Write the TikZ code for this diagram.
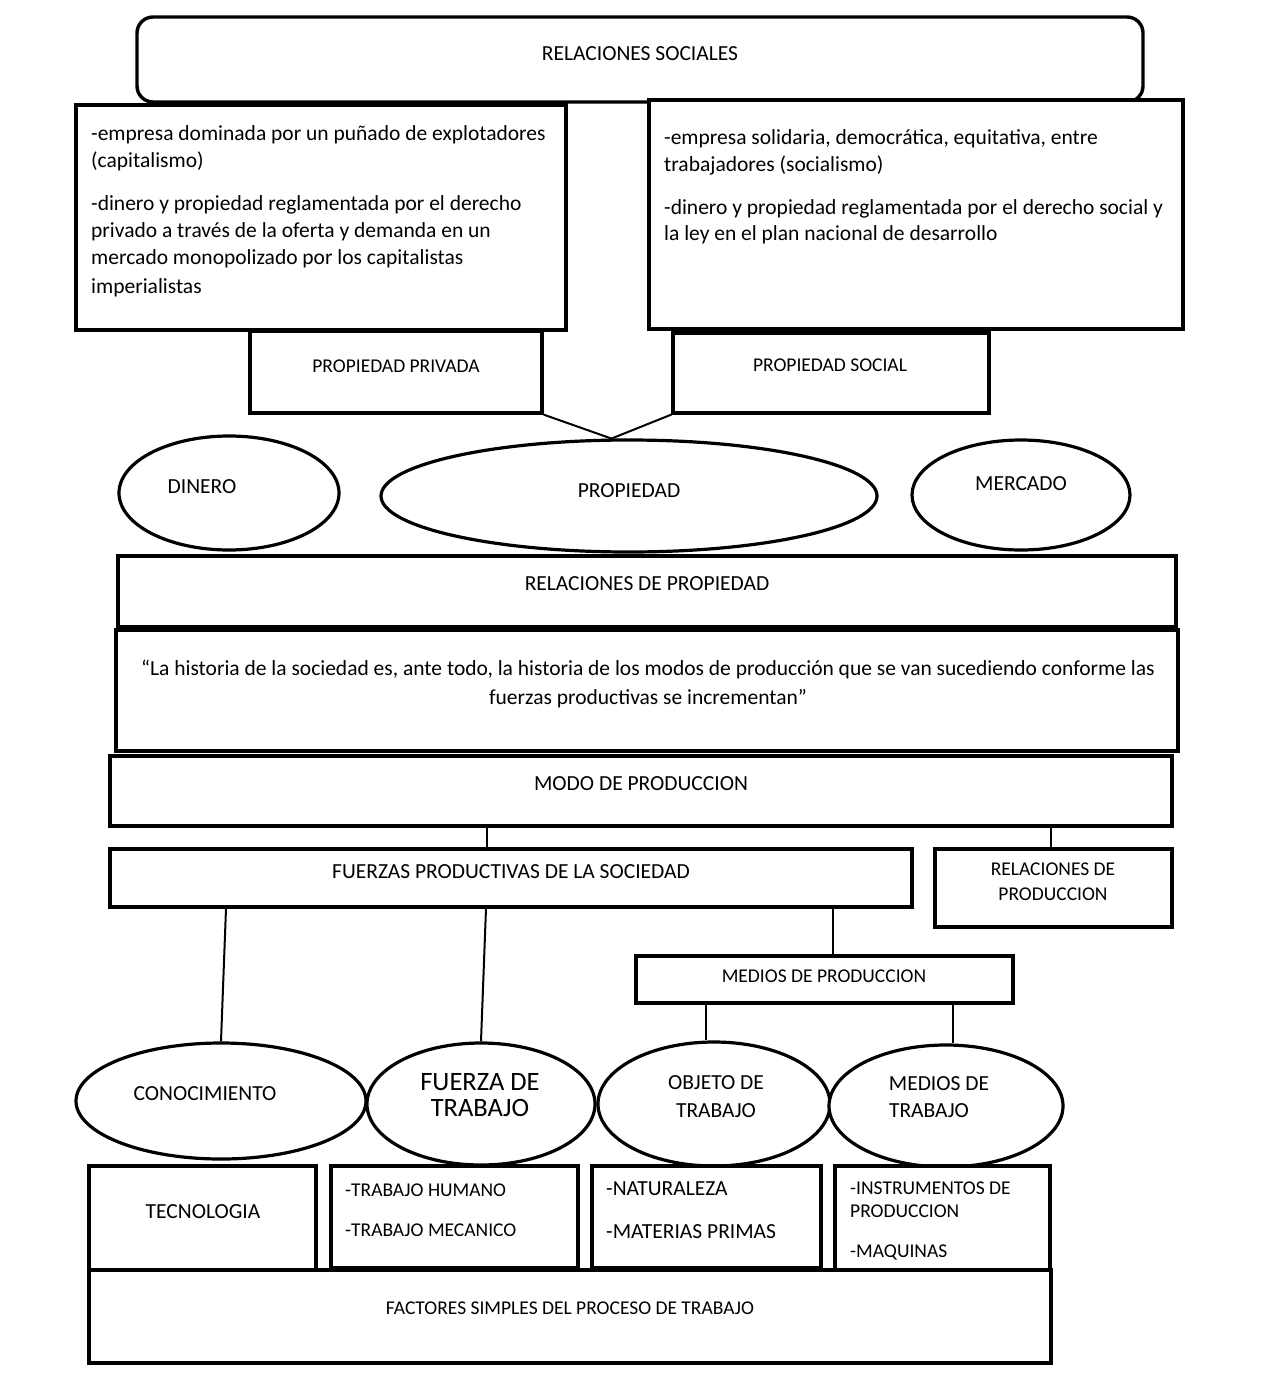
\documentclass[tikz,border=0pt]{standalone}
\usepackage{fontspec}
\setmainfont{Carlito}
\usetikzlibrary{shapes.geometric,calc}
\newcommand\mybox[5]{\node[boxst, minimum width={(#4-#2)*1pt}, minimum height={(#5-#3)*1pt}] (#1) at ({(#2+#4)/2},{(#3+#5)/2}) {};}
\newcommand\myell[5]{\node[ellst, minimum width={2*#4*1pt}, minimum height={2*#5*1pt}] (#1) at (#2,#3) {};}
\newcommand\lw[4]{\node[txtl] (#1) at ({#2},{#3+7}) {#4};}
\newcommand\lc[4]{\node[txtc] (#1) at ({#2},{#3+7}) {#4};}
\newcommand\lcs[4]{\node[txtc, font=\fontsize{19.5}{22}\selectfont] (#1) at ({#2},{#3+6.5}) {#4};}
\newcommand\lws[4]{\node[txtl, font=\fontsize{19.5}{22}\selectfont] (#1) at ({#2},{#3+6.5}) {#4};}
\begin{document}
\begin{tikzpicture}[x=1pt,y=-1pt,
  boxst/.style={draw, line width=3.2pt, rectangle, inner sep=0pt, fill=white},
  ellst/.style={draw, line width=3.2pt, ellipse, inner sep=0pt, fill=white},
  txtl/.style={anchor=base west, inner sep=0pt, font=\fontsize{21.5}{24}\selectfont},
  txtc/.style={anchor=base, inner sep=0pt, font=\fontsize{21.5}{24}\selectfont},
  conn/.style={line width=2pt}]
\useasboundingbox (0,0) rectangle (1275,1392);
\fill[white] (0,0) rectangle (1275,1392);

% top
\node[draw, line width=3.4pt, rounded corners=16pt, minimum width=1006pt, minimum height=85pt, inner sep=0pt] (rs) at (640,59.5) {};
\lc{trs}{640}{53}{RELACIONES SOCIALES}

\mybox{pp}{250}{331}{542}{413}
\mybox{ps}{673}{333}{989}{413}
\myell{prop}{629}{496}{248}{56}
\draw[conn] (pp.south east) -- (prop.107) -- (ps.south west);

\mybox{lbox}{76}{105}{566}{330}
\mybox{rbox}{649}{100}{1183}{329}
\lw{l1}{91}{133}{-empresa dominada por un puñado de explotadores}
\lw{l2}{91}{160}{(capitalismo)}
\lw{l3}{91}{203}{-dinero y propiedad reglamentada por el derecho}
\lw{l4}{91}{230}{privado a través de la oferta y demanda en un}
\lw{l5}{91}{257}{mercado monopolizado por los capitalistas}
\lw{l6}{91}{286}{imperialistas}
\lw{r1}{664}{137}{-empresa solidaria, democrática, equitativa, entre}
\lw{r2}{664}{164}{trabajadores (socialismo)}
\lw{r3}{664}{207}{-dinero y propiedad reglamentada por el derecho social y}
\lw{r4}{664}{233}{la ley en el plan nacional de desarrollo}

\lcs{tpp}{396}{366}{PROPIEDAD PRIVADA}
\lcs{tps}{830}{365}{PROPIEDAD SOCIAL}

\myell{din}{229}{493}{110}{57}
\myell{mer}{1021}{495}{109}{55}
\lc{tdin}{202}{486}{DINERO}
\lc{tprop}{629}{490}{PROPIEDAD}
\lc{tmer}{1021}{483}{MERCADO}

\mybox{rp}{118}{556}{1176}{627}
\lc{trp}{647}{583}{RELACIONES DE PROPIEDAD}
\mybox{quote}{116}{630}{1178}{751}
\lc{q1}{648}{668}{“La historia de la sociedad es, ante todo, la historia de los modos de producción que se van sucediendo conforme las}
\lc{q2}{648}{697}{fuerzas productivas se incrementan”}

\mybox{modo}{110}{756}{1172}{826}
\lc{tmodo}{641}{783}{MODO DE PRODUCCION}

\mybox{fz}{110}{849}{912}{907}
\lc{tfz}{511}{871}{FUERZAS PRODUCTIVAS DE LA SOCIEDAD}
\mybox{rprod}{935}{849}{1172}{927}
\lcs{trp1}{1053}{869}{RELACIONES DE}
\lcs{trp2}{1053}{894}{PRODUCCION}
\mybox{mp}{636}{956}{1013}{1003}
\lcs{tmp}{824}{976}{MEDIOS DE PRODUCCION}

\coordinate (xa) at (487,0);
\coordinate (xb) at (1051,0);
\coordinate (xc) at (833,0);
\coordinate (xd) at (226,0);
\coordinate (xe) at (486,0);
\coordinate (xf) at (706,0);
\coordinate (xg) at (953,0);

\myell{con}{221}{1101}{145}{58}
\myell{fdt}{481}{1104}{114}{61}
\myell{odt}{714}{1104}{116}{62}
\myell{mdt}{946}{1106}{117}{61}

\draw[conn] (modo.south -| xa) -- (fz.north -| xa);
\draw[conn] (modo.south -| xb) -- (rprod.north -| xb);
\draw[conn] (fz.south -| xc) -- (mp.north -| xc);
\draw[conn] (fz.south -| xd) -- (con.north);
\draw[conn] (fz.south -| xe) -- (fdt.north);
\draw[conn] (mp.south -| xf) -- (odt.north -| xf);
\draw[conn] (mp.south -| xg) -- (mdt.north -| xg);

\lc{tcon}{205}{1093}{CONOCIMIENTO}
\node[txtc, font=\fontsize{26.5}{28}\selectfont] (tf1) at (480,1090.5) {FUERZA DE};
\node[txtc, font=\fontsize{26.5}{28}\selectfont] (tf2) at (480,1116.5) {TRABAJO};
\lc{to1}{716}{1082}{OBJETO DE}
\lc{to2}{716}{1110}{TRABAJO}
\lc{tm1}{939}{1083}{MEDIOS DE}
\lc{tm2}{929}{1110}{TRABAJO}

\mybox{tec}{89}{1166}{316}{1270}
\mybox{trab}{331}{1166}{578}{1268}
\mybox{nat}{592}{1166}{821}{1268}
\mybox{ins}{835}{1166}{1050}{1270}
\mybox{fac}{89}{1270}{1051}{1363}

\lc{ttec}{203}{1211}{TECNOLOGIA}
\lws{b1}{345}{1190}{-TRABAJO HUMANO}
\lws{b2}{345}{1230}{-TRABAJO MECANICO}
\lw{b3}{606}{1188}{-NATURALEZA}
\lw{b4}{606}{1231}{-MATERIAS PRIMAS}
\lws{b5}{850}{1188}{-INSTRUMENTOS DE}
\lws{b6}{850}{1211}{PRODUCCION}
\lws{b7}{850}{1251}{-MAQUINAS}
\lcs{tfac}{570}{1308}{FACTORES SIMPLES DEL PROCESO DE TRABAJO}
\end{tikzpicture}
\end{document}
